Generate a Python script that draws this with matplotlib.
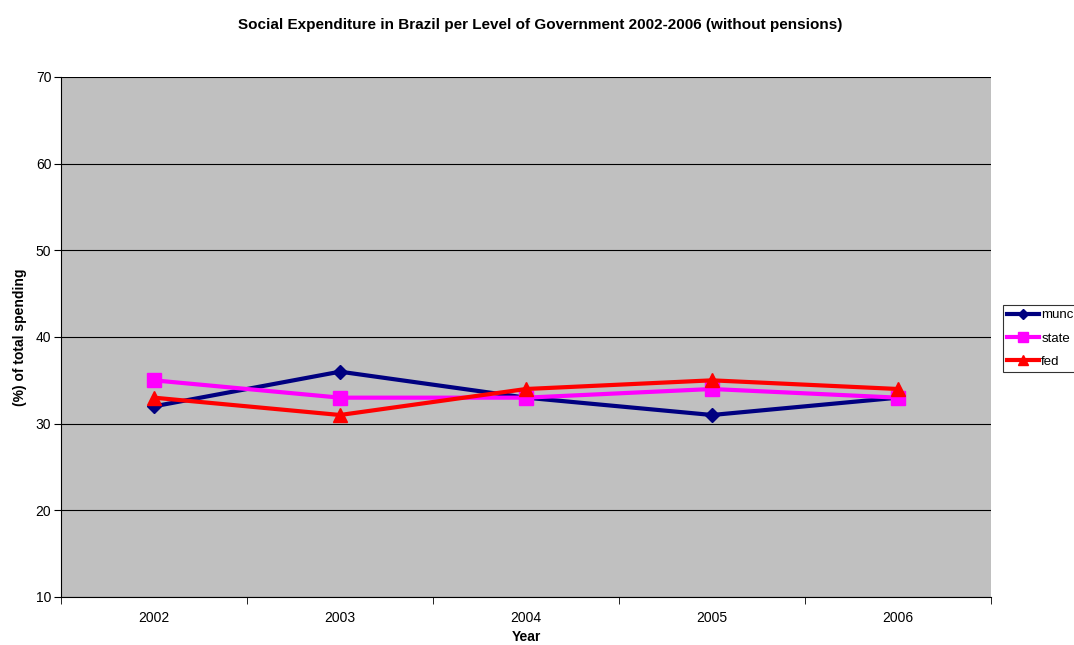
import matplotlib
matplotlib.use('Agg')
import matplotlib.pyplot as plt
import numpy as np

plt.rcParams['font.family'] = ['Liberation Sans', 'DejaVu Sans']

years = ['2002', '2003', '2004', '2005', '2006']
munc = [32, 36, 33, 31, 33]
state = [35, 33, 33, 34, 33]
fed = [33, 31, 34, 35, 34]

fig = plt.figure(figsize=(10.74, 6.45), dpi=100)
ax = fig.add_axes([61/1074, 1-597/645, 930/1074, 520/645])
ax.set_facecolor('#C0C0C0')

x = np.arange(len(years))
ax.plot(x, munc, color='#000080', lw=3, marker='D', ms=7, label='munc')
ax.plot(x, state, color='#FF00FF', lw=3, marker='s', ms=10, label='state')
ax.plot(x, fed, color='#FF0000', lw=3, marker='^', ms=10, label='fed')

ax.set_xlim(-0.5, len(years) - 0.5)
ax.set_ylim(10, 70)
ax.set_yticks(range(10, 71, 10))
ax.yaxis.grid(True, color='black', lw=0.8)
ax.set_axisbelow(True)
ax.set_xticks(x)
ax.set_xticklabels(years, fontsize=10)
ax.set_xticks(np.arange(-0.5, len(years)), minor=True)
ax.tick_params(axis='x', which='major', length=0, pad=10)
ax.tick_params(axis='x', which='minor', length=5, color='black')
ax.tick_params(axis='y', labelsize=10, length=5, pad=2)
for s in ['top', 'right']:
    ax.spines[s].set_visible(False)
ax.spines['left'].set_color('black')
ax.spines['bottom'].set_color('black')

ax.set_xlabel('Year', fontsize=10, fontweight='bold', labelpad=4)
ax.set_ylabel('(%) of total spending', fontsize=10, fontweight='bold', labelpad=6)
fig.suptitle('Social Expenditure in Brazil per Level of Government 2002-2006 (without pensions)',
             x=540/1074, y=1-25/645, va='center', fontsize=11, fontweight='bold')

leg = fig.legend(loc='upper left', bbox_to_anchor=(1003/1074, 1-305/645),
                 frameon=True, fancybox=False, edgecolor='black', fontsize=9.5,
                 handlelength=2.4, handletextpad=0.2, labelspacing=0.85,
                 borderpad=0.3, borderaxespad=0, markerscale=0.75)
leg.get_frame().set_linewidth(0.8)

fig.savefig('out.png', dpi=100, facecolor='white')
